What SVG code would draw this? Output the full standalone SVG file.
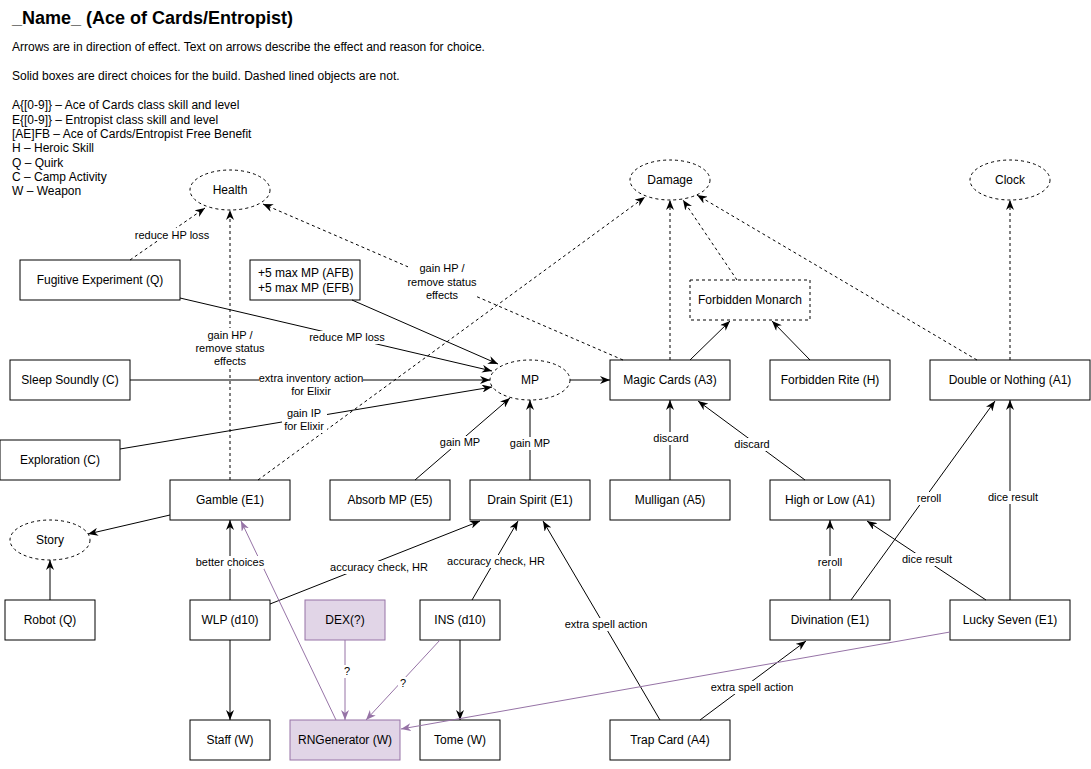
<svg xmlns="http://www.w3.org/2000/svg" width="1091" height="769" viewBox="0 0 1091 769">
<style>
text{font-family:"Liberation Sans",Arial,sans-serif;fill:#000}
.t{font-size:12px;text-anchor:middle}
.l{font-size:11px;text-anchor:middle}
.h{font-size:12px}
.box{fill:#fff;stroke:#000;stroke-width:1}
.dbox{fill:#fff;stroke:#000;stroke-width:1;stroke-dasharray:3 3}
.pbox{fill:#e1d5e7;stroke:#9673a6;stroke-width:1}
.e{fill:none;stroke:#000;stroke-width:1;marker-end:url(#a)}
.d{fill:none;stroke:#000;stroke-width:1;stroke-dasharray:3 3;marker-end:url(#a)}
.p{fill:none;stroke:#9673a6;stroke-width:1;marker-end:url(#ap)}
.lb{fill:#fff}
</style>
<defs>
<marker id="a" viewBox="0 0 10 8" refX="10" refY="4" markerWidth="10" markerHeight="8" orient="auto" markerUnits="userSpaceOnUse"><path d="M0,0 L10,4 L0,8 L3,4 Z" fill="#000"/></marker>
<marker id="ap" viewBox="0 0 10 8" refX="10" refY="4" markerWidth="10" markerHeight="8" orient="auto" markerUnits="userSpaceOnUse"><path d="M0,0 L10,4 L0,8 L3,4 Z" fill="#9673a6"/></marker>
</defs>
<rect width="1091" height="769" fill="#fff"/>
<g id="header">
<text x="12" y="24" style="font-size:18px;font-weight:bold">_Name_ (Ace of Cards/Entropist)</text>
<text class="h" x="12" y="51">Arrows are in direction of effect. Text on arrows describe the effect and reason for choice.</text>
<text class="h" x="12" y="80">Solid boxes are direct choices for the build. Dashed lined objects are not.</text>
<text class="h" x="12" y="109">A{[0-9]} – Ace of Cards class skill and level</text>
<text class="h" x="12" y="123.5">E{[0-9]} – Entropist class skill and level</text>
<text class="h" x="12" y="138">[AE]FB – Ace of Cards/Entropist Free Benefit</text>
<text class="h" x="12" y="152">H – Heroic Skill</text>
<text class="h" x="12" y="166.5">Q – Quirk</text>
<text class="h" x="12" y="181">C – Camp Activity</text>
<text class="h" x="12" y="195">W – Weapon</text>
</g>
<g id="nodes">
<g id="health"><ellipse cx="230" cy="190" rx="40" ry="20" class="dbox"/><text class="t" x="230" y="194">Health</text></g>
<g id="damage"><ellipse cx="670" cy="180" rx="40" ry="20" class="dbox"/><text class="t" x="670" y="184">Damage</text></g>
<g id="clock"><ellipse cx="1010" cy="180" rx="40" ry="20" class="dbox"/><text class="t" x="1010" y="184">Clock</text></g>
<g id="story"><ellipse cx="50" cy="540" rx="40" ry="20" class="dbox"/><text class="t" x="50" y="544">Story</text></g>
<g id="mp"><ellipse cx="530" cy="380" rx="40" ry="20" class="dbox"/><text class="t" x="530" y="384">MP</text></g>
<g id="fugitive"><rect x="20" y="260" width="160" height="40" class="box"/><text class="t" x="100" y="284">Fugitive Experiment (Q)</text></g>
<g id="maxmp"><rect x="250" y="260" width="110" height="40" class="box"/><text class="h" x="258" y="277">+5 max MP (AFB)</text><text class="h" x="258" y="292">+5 max MP (EFB)</text></g>
<g id="monarch"><rect x="690" y="280" width="120" height="40" class="dbox"/><text class="t" x="750" y="304">Forbidden Monarch</text></g>
<g id="sleep"><rect x="10" y="360" width="120" height="40" class="box"/><text class="t" x="70" y="384">Sleep Soundly (C)</text></g>
<g id="magic"><rect x="610" y="360" width="120" height="40" class="box"/><text class="t" x="670" y="384">Magic Cards (A3)</text></g>
<g id="rite"><rect x="770" y="360" width="120" height="40" class="box"/><text class="t" x="830" y="384">Forbidden Rite (H)</text></g>
<g id="double"><rect x="930" y="360" width="160" height="40" class="box"/><text class="t" x="1010" y="384">Double or Nothing (A1)</text></g>
<g id="exploration"><rect x="0" y="440" width="120" height="40" class="box"/><text class="t" x="60" y="464">Exploration (C)</text></g>
<g id="gamble"><rect x="170" y="480" width="120" height="40" class="box"/><text class="t" x="230" y="504">Gamble (E1)</text></g>
<g id="absorb"><rect x="330" y="480" width="120" height="40" class="box"/><text class="t" x="390" y="504">Absorb MP (E5)</text></g>
<g id="drain"><rect x="470" y="480" width="120" height="40" class="box"/><text class="t" x="530" y="504">Drain Spirit (E1)</text></g>
<g id="mulligan"><rect x="610" y="480" width="120" height="40" class="box"/><text class="t" x="670" y="504">Mulligan (A5)</text></g>
<g id="highlow"><rect x="770" y="480" width="120" height="40" class="box"/><text class="t" x="830" y="504">High or Low (A1)</text></g>
<g id="robot"><rect x="5" y="600" width="90" height="40" class="box"/><text class="t" x="50" y="624">Robot (Q)</text></g>
<g id="wlp"><rect x="190" y="600" width="80" height="40" class="box"/><text class="t" x="230" y="624">WLP (d10)</text></g>
<g id="dex"><rect x="305" y="600" width="80" height="40" class="pbox"/><text class="t" x="345" y="624">DEX(?)</text></g>
<g id="ins"><rect x="420" y="600" width="80" height="40" class="box"/><text class="t" x="460" y="624">INS (d10)</text></g>
<g id="divination"><rect x="770" y="600" width="120" height="40" class="box"/><text class="t" x="830" y="624">Divination (E1)</text></g>
<g id="lucky"><rect x="950" y="600" width="120" height="40" class="box"/><text class="t" x="1010" y="624">Lucky Seven (E1)</text></g>
<g id="staff"><rect x="190" y="720" width="80" height="40" class="box"/><text class="t" x="230" y="744">Staff (W)</text></g>
<g id="rng"><rect x="290" y="720" width="110" height="40" class="pbox"/><text class="t" x="345" y="744">RNGenerator (W)</text></g>
<g id="tome"><rect x="420" y="720" width="80" height="40" class="box"/><text class="t" x="460" y="744">Tome (W)</text></g>
<g id="trap"><rect x="610" y="720" width="120" height="40" class="box"/><text class="t" x="670" y="744">Trap Card (A4)</text></g>
</g>
<g id="connectors">
<path class="d" d="M130,260 L205,208"/>
<path class="d" d="M230,480 L230,210"/>
<path class="d" d="M623,360 L263,204"/>
<path class="d" d="M258,480 L645,197"/>
<path class="d" d="M670,360 L670,200"/>
<path class="d" d="M737,280 L683,200"/>
<path class="d" d="M977,360 L697,195"/>
<path class="d" d="M1010,360 L1010,200"/>
<path class="e" d="M690,360 L730,321"/>
<path class="e" d="M810,360 L772,321"/>
<path class="e" d="M180,298 L492,371"/>
<path class="e" d="M352,300 L498,364"/>
<path class="e" d="M130,380 L490,380"/>
<path class="e" d="M120,449 L492,387"/>
<path class="e" d="M415,480 L510,398"/>
<path class="e" d="M530,480 L530,400"/>
<path class="e" d="M570,380 L610,380"/>
<path class="e" d="M670,480 L670,400"/>
<path class="e" d="M805,480 L698,401"/>
<path class="e" d="M170,515 L88,534"/>
<path class="e" d="M50,600 L50,560"/>
<path class="e" d="M230,600 L230,520"/>
<path class="e" d="M270,604 L480,521"/>
<path class="e" d="M472,600 L518,521"/>
<path class="e" d="M660,720 L543,521"/>
<path class="e" d="M700,720 L806,641"/>
<path class="e" d="M830,600 L830,520"/>
<path class="e" d="M851,600 L995,401"/>
<path class="e" d="M986,600 L867,521"/>
<path class="e" d="M1010,600 L1010,400"/>
<path class="e" d="M230,640 L230,720"/>
<path class="e" d="M460,640 L460,720"/>
<path class="p" d="M345,640 L345,720"/>
<path class="p" d="M440,640 L366,720"/>
<path class="p" d="M950,632 L401,729"/>
<path class="p" d="M336,720 L241,521"/>
</g>
<g id="labels">
<rect class="lb" x="136" y="228" width="72" height="13"/><text class="l" x="172" y="239">reduce HP loss</text>
<rect class="lb" x="196" y="328" width="68" height="40"/><text class="l" x="230" y="339">gain HP /</text><text class="l" x="230" y="352">remove status</text><text class="l" x="230" y="365">effects</text>
<rect class="lb" x="408" y="262" width="68" height="40"/><text class="l" x="442" y="272">gain HP /</text><text class="l" x="442" y="285.5">remove status</text><text class="l" x="442" y="299">effects</text>
<rect class="lb" x="310" y="331" width="74" height="13"/><text class="l" x="347" y="341">reduce MP loss</text>
<rect class="lb" x="259" y="372" width="104" height="26"/><text class="l" x="311" y="382">extra inventory action</text><text class="l" x="311" y="395">for Elixir</text>
<rect class="lb" x="282" y="407" width="45" height="26"/><text class="l" x="304" y="417">gain IP </text><text class="l" x="304" y="430">for Elixir</text>
<rect class="lb" x="440" y="436" width="40" height="13"/><text class="l" x="460" y="446">gain MP</text>
<rect class="lb" x="510" y="437" width="40" height="13"/><text class="l" x="530" y="447">gain MP</text>
<rect class="lb" x="653" y="432" width="37" height="13"/><text class="l" x="671" y="442">discard</text>
<rect class="lb" x="734" y="438" width="37" height="13"/><text class="l" x="752" y="448">discard</text>
<rect class="lb" x="196" y="556" width="68" height="13"/><text class="l" x="230" y="566">better choices</text>
<rect class="lb" x="333" y="561" width="92" height="13"/><text class="l" x="379" y="571">accuracy check, HR</text>
<rect class="lb" x="450" y="555" width="92" height="13"/><text class="l" x="496" y="565">accuracy check, HR</text>
<rect class="lb" x="342" y="665" width="10" height="13"/><text class="l" x="347" y="675">?</text>
<rect class="lb" x="398" y="677" width="10" height="13"/><text class="l" x="403" y="687">?</text>
<rect class="lb" x="564" y="618" width="84" height="13"/><text class="l" x="606" y="628">extra spell action</text>
<rect class="lb" x="710" y="681" width="84" height="13"/><text class="l" x="752" y="691">extra spell action</text>
<rect class="lb" x="816" y="556" width="28" height="13"/><text class="l" x="830" y="566">reroll</text>
<rect class="lb" x="915" y="492" width="28" height="13"/><text class="l" x="929" y="502">reroll</text>
<rect class="lb" x="902" y="553" width="50" height="13"/><text class="l" x="927" y="563">dice result</text>
<rect class="lb" x="988" y="491" width="50" height="13"/><text class="l" x="1013" y="501">dice result</text>
</g>
</svg>
